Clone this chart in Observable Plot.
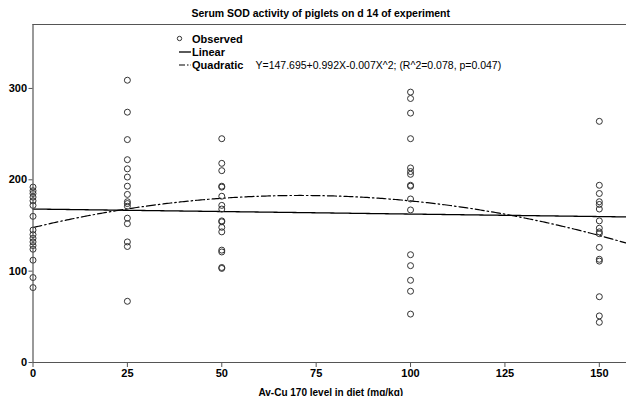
<!DOCTYPE html>
<html><head><meta charset="utf-8">
<script src="https://cdn.jsdelivr.net/npm/d3@7"></script>
<script src="https://cdn.jsdelivr.net/npm/@observablehq/plot@0.6"></script>
<style>
body{margin:0;background:#fff;}
#chart svg{font-family:"Liberation Sans",Arial,sans-serif;}
</style>
</head><body><div id="chart"></div>
<script>
// ---- data ----
const titleText = "Serum SOD activity of piglets on d 14 of experiment";
const xLabelText = "Av-Cu 170 level in diet (mg/kg)";
const doseLevels = [0, 25, 50, 100, 150];
const sodAt0   = [192, 188, 185, 181, 177, 172, 160, 145, 140, 136, 132, 128, 124, 112, 93, 82];
const sodAt25  = [309, 274, 244, 222, 212, 203, 193, 184, 176, 174, 171, 158, 152, 132, 127, 67];
const sodAt50  = [245, 218, 210, 193, 192, 182, 172, 168, 155, 154, 148, 143, 123, 121, 104, 103];
const sodAt100 = [296, 289, 273, 245, 213, 209, 206, 194, 193, 179, 167, 118, 106, 90, 78, 53];
const sodAt150 = [264, 194, 185, 176, 173, 168, 155, 147, 143, 141, 126, 113, 111, 72, 51, 44];
const linearCoef = [168, -0.055];              // intercept, slope
const quadCoef = [147.695, 0.992, -0.007];     // from the printed equation
const eqText = "Y=147.695+0.992X-0.007X^2; (R^2=0.078, p=0.047)";
const legendLabels = ["Observed", "Linear", "Quadratic"];
const xTicks = [0, 25, 50, 75, 100, 125, 150];
const yTicks = [0, 100, 200, 300];
const xDomain = [0, 157.2];
const yDomain = [0, 370];

// ---- build table ----
const groups = [sodAt0, sodAt25, sodAt50, sodAt100, sodAt150];
const observed = [];
groups.forEach((vals, i) => vals.forEach(v => observed.push({dose: doseLevels[i], sod: v})));
const grid = d3.range(xDomain[0], xDomain[1] + 0.01, 0.5);
const linearFit = grid.map(x => ({dose: x, sod: linearCoef[0] + linearCoef[1] * x}));
const quadFit = grid.map(x => ({dose: x, sod: quadCoef[0] + quadCoef[1] * x + quadCoef[2] * x * x}));

const axisColor = "#555";
const dashDot = "9,3,1.5,3";
const legendText = (label, row) => Plot.text([label], {text: d => d, frameAnchor: "top-left", dx: 159, dy: 15 + 13 * row, fontWeight: "bold", fontSize: 11, textAnchor: "start", lineAnchor: "middle", fill: "#000"});

const chart = Plot.plot({
  width: 626, height: 396,
  marginLeft: 32.5, marginRight: 0, marginTop: 24, marginBottom: 34,
  style: {fontFamily: "Liberation Sans, Arial, sans-serif", fontSize: "10px", background: "#fff", color: "#000"},
  x: {domain: xDomain},
  y: {domain: yDomain},
  marks: [
    Plot.ruleY([yDomain[1]], {stroke: axisColor, strokeWidth: 1}),
    Plot.line(linearFit, {x: "dose", y: "sod", stroke: "#000", strokeWidth: 1.3}),
    Plot.line(quadFit, {x: "dose", y: "sod", stroke: "#000", strokeWidth: 1.2, strokeDasharray: dashDot}),
    Plot.dot(observed, {x: "dose", y: "sod", r: 3, stroke: "#333", strokeWidth: 1, fill: "none"}),
    Plot.ruleX([0], {stroke: axisColor, strokeWidth: 1.2}),
    Plot.ruleY([0], {stroke: axisColor, strokeWidth: 1.2}),
    Plot.axisX({ticks: xTicks, tickSize: 5, tickPadding: 2, fontWeight: "bold", fontSize: 11, stroke: axisColor, label: null, tickFormat: d => String(d)}),
    Plot.axisY({ticks: yTicks, tickSize: 4, tickPadding: 2, fontWeight: "bold", fontSize: 11, stroke: axisColor, label: null, tickFormat: d => String(d)}),
    // title and axis label
    Plot.text([titleText], {text: d => d, frameAnchor: "top", dx: -9, dy: -15, fontWeight: "bold", fontSize: 10.5, fill: "#000"}),
    Plot.text([xLabelText], {text: d => d, frameAnchor: "bottom", dx: 1, dy: 33, fontWeight: "bold", fontSize: 10, fill: "#000"}),
    // legend
    Plot.dot([legendLabels[0]], {frameAnchor: "top-left", dx: 146.5, dy: 14, r: 2.2, stroke: "#333", strokeWidth: 1, fill: "none"}),
    legendText(legendLabels[0], 0),
    legendText(legendLabels[1], 1),
    legendText(legendLabels[2], 2),
    Plot.text([eqText], {text: d => d, frameAnchor: "top-left", dx: 222.5, dy: 41, fontSize: 10.5, textAnchor: "start", lineAnchor: "middle", fill: "#000"})
  ]
});
document.getElementById("chart").appendChild(chart);

// legend line samples
const svg = d3.select(chart);
const lg = svg.append("g");
lg.append("line").attr("x1", 179).attr("x2", 191).attr("y1", 52).attr("y2", 52).attr("stroke", "#000").attr("stroke-width", 1.3);
lg.append("line").attr("x1", 179).attr("x2", 191).attr("y1", 65).attr("y2", 65).attr("stroke", "#000").attr("stroke-width", 1.2).attr("stroke-dasharray", "6,2,1.5,2");
</script>
</body></html>
